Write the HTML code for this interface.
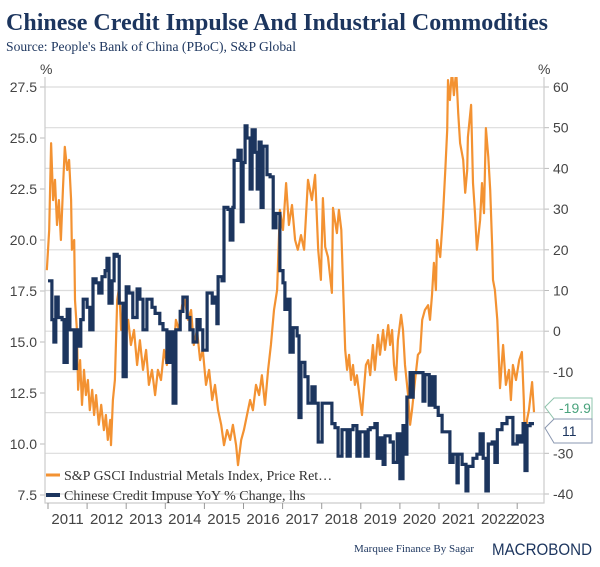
<!DOCTYPE html>
<html><head><meta charset="utf-8"><style>
body{margin:0;background:#fff;width:600px;height:567px;overflow:hidden}
svg{display:block}
.t{font-family:"Liberation Sans",sans-serif;fill:#444;font-size:14px}
.s{font-family:"Liberation Serif",serif}
</style></head><body>
<svg id="chart" width="600" height="567">
<text class="s" x="6" y="30" font-size="24" font-weight="bold" fill="#1c355e" textLength="542" lengthAdjust="spacingAndGlyphs">Chinese Credit Impulse And Industrial Commodities</text>
<text class="s" x="6" y="51" font-size="13.5" fill="#1c355e" textLength="290" lengthAdjust="spacingAndGlyphs">Source: People's Bank of China (PBoC), S&amp;P Global</text>
<text class="t" x="40" y="74">%</text>
<text class="t" x="538" y="74">%</text>
<defs><clipPath id="pc"><rect x="45" y="77" width="499" height="426"/></clipPath></defs>
<g id="grid"></g><g id="axes"></g>
<g id="series" clip-path="url(#pc)"></g>
<g id="legend">
<line x1="46" y1="475" x2="60" y2="475" stroke="#f39232" stroke-width="3"/>
<text class="s" x="64" y="480" font-size="14" fill="#333">S&amp;P GSCI Industrial Metals Index, Price Ret…</text>
<line x1="46" y1="495" x2="60" y2="495" stroke="#1c355e" stroke-width="4"/>
<text class="s" x="64" y="500" font-size="14" fill="#333">Chinese Credit Impuse YoY % Change, lhs</text>
</g>
<g>
<path d="M545,407 L554,398 H592 V419 H554 Z" fill="#fff" stroke="#8fc4ad"/>
<text class="t" x="559" y="413" style="fill:#4aa37d">-19.9</text></g>
<g>
<path d="M545,428 L554,419 H592 V443 H554 Z" fill="#fff" stroke="#8a97b0"/>
<text class="t" x="562" y="436" style="fill:#1c355e">11</text></g>
<text class="s" x="354" y="552" font-size="11" fill="#1c355e">Marquee Finance By Sagar</text>
<text x="492" y="555" font-family="Liberation Sans,sans-serif" font-size="17" fill="#1c355e" textLength="100" lengthAdjust="spacingAndGlyphs">MACROBOND</text>
</svg>
<script>
const creditT=[2011.00,2011.10,2011.15,2011.20,2011.26,2011.36,2011.41,2011.49,2011.56,2011.67,2011.72,2011.77,2011.84,2011.90,2012.00,2012.07,2012.15,2012.23,2012.30,2012.38,2012.46,2012.51,2012.56,2012.64,2012.69,2012.77,2012.82,2012.92,2013.00,2013.07,2013.17,2013.28,2013.35,2013.43,2013.53,2013.66,2013.74,2013.86,2013.94,2014.04,2014.12,2014.20,2014.27,2014.38,2014.45,2014.56,2014.63,2014.71,2014.81,2014.89,2014.96,2015.07,2015.20,2015.27,2015.32,2015.35,2015.45,2015.50,2015.60,2015.66,2015.73,2015.76,2015.86,2015.94,2015.99,2016.04,2016.09,2016.17,2016.22,2016.30,2016.35,2016.40,2016.45,2016.50,2016.60,2016.68,2016.76,2016.83,2016.93,2017.01,2017.06,2017.14,2017.19,2017.27,2017.37,2017.42,2017.47,2017.57,2017.65,2017.75,2017.83,2017.91,2018.01,2018.09,2018.16,2018.26,2018.34,2018.42,2018.52,2018.65,2018.73,2018.80,2018.90,2018.98,2019.11,2019.19,2019.24,2019.36,2019.42,2019.49,2019.57,2019.62,2019.75,2019.83,2019.93,2020.00,2020.08,2020.16,2020.18,2020.26,2020.31,2020.34,2020.46,2020.59,2020.64,2020.75,2020.82,2020.90,2020.98,2021.08,2021.21,2021.28,2021.36,2021.46,2021.49,2021.59,2021.69,2021.74,2021.87,2021.97,2022.05,2022.13,2022.20,2022.26,2022.36,2022.43,2022.49,2022.61,2022.74,2022.82,2022.89,2023.00,2023.07,2023.15,2023.20,2023.25,2023.33,2023.43];
const creditV=[18.0,16.1,15.0,17.2,16.2,16.1,14.0,16.6,15.6,13.7,15.6,14.8,16.1,17.1,16.7,15.6,18.1,17.9,17.4,18.2,18.5,19.1,16.9,18.0,19.3,19.2,16.9,13.3,17.7,17.4,16.2,17.6,17.1,15.6,17.1,16.7,16.4,15.9,15.6,14.0,15.5,12.0,15.6,16.5,17.2,16.2,15.6,15.0,16.1,15.6,14.6,17.4,16.9,17.2,15.9,18.2,18.0,21.6,21.5,20.0,21.6,23.9,24.4,20.9,23.8,25.6,25.0,22.5,25.4,24.3,22.5,24.8,21.6,24.6,23.2,23.1,20.6,21.3,18.5,17.9,16.6,17.1,14.5,15.7,15.3,11.3,14.0,13.3,12.0,12.8,12.0,10.1,12.0,12.0,12.0,11.0,10.8,9.4,10.7,9.4,10.7,10.9,9.4,10.6,9.4,10.7,10.8,11.0,9.3,10.3,9.0,10.4,10.1,9.1,10.5,8.3,10.9,9.5,12.3,13.5,12.3,13.5,13.5,12.1,13.4,11.9,13.3,11.8,11.4,10.6,10.6,9.1,9.5,8.1,9.5,9.0,7.7,8.9,9.3,9.5,10.5,9.3,7.7,10.0,10.1,9.1,10.7,11.0,11.3,11.3,10.0,10.4,10.1,11.0,8.7,10.9,11.0,11.0];
const metalsT=[2010.97,2011.03,2011.08,2011.13,2011.18,2011.23,2011.28,2011.33,2011.38,2011.43,2011.49,2011.54,2011.59,2011.61,2011.67,2011.69,2011.74,2011.77,2011.82,2011.87,2011.92,2011.97,2012.02,2012.07,2012.13,2012.18,2012.23,2012.30,2012.36,2012.43,2012.48,2012.53,2012.59,2012.61,2012.66,2012.71,2012.77,2012.82,2012.87,2012.92,2012.97,2013.05,2013.12,2013.20,2013.28,2013.35,2013.43,2013.51,2013.58,2013.66,2013.74,2013.81,2013.89,2013.97,2014.04,2014.12,2014.20,2014.27,2014.35,2014.43,2014.50,2014.58,2014.66,2014.73,2014.81,2014.89,2014.96,2015.04,2015.12,2015.20,2015.27,2015.35,2015.43,2015.50,2015.58,2015.66,2015.73,2015.81,2015.86,2015.94,2016.01,2016.09,2016.17,2016.24,2016.32,2016.40,2016.47,2016.55,2016.63,2016.70,2016.78,2016.86,2016.93,2017.01,2017.09,2017.16,2017.24,2017.32,2017.39,2017.47,2017.55,2017.65,2017.75,2017.83,2017.91,2017.98,2018.03,2018.09,2018.16,2018.26,2018.29,2018.39,2018.44,2018.50,2018.55,2018.60,2018.65,2018.70,2018.75,2018.80,2018.85,2018.90,2018.98,2019.03,2019.08,2019.13,2019.19,2019.24,2019.31,2019.36,2019.44,2019.49,2019.57,2019.62,2019.70,2019.75,2019.80,2019.85,2019.90,2019.95,2020.03,2020.08,2020.13,2020.21,2020.26,2020.31,2020.39,2020.46,2020.52,2020.57,2020.64,2020.72,2020.77,2020.82,2020.87,2020.92,2020.95,2021.03,2021.10,2021.16,2021.21,2021.23,2021.28,2021.33,2021.38,2021.44,2021.49,2021.54,2021.62,2021.67,2021.72,2021.74,2021.82,2021.87,2021.92,2021.97,2022.05,2022.10,2022.15,2022.20,2022.26,2022.31,2022.36,2022.38,2022.43,2022.49,2022.56,2022.61,2022.64,2022.71,2022.79,2022.84,2022.89,2022.97,2023.05,2023.12,2023.17,2023.20,2023.25,2023.30,2023.38,2023.43];
const metalsV=[15.0,24.9,46.2,32.2,37.2,26.1,32.2,22.4,34.7,45.3,39.6,42.1,32.2,20.0,22.4,7.7,0.3,-14.4,-7.1,-18.1,-9.5,-15.7,-12.0,-19.4,-14.4,-20.6,-15.7,-23.0,-18.1,-24.3,-20.6,-26.7,-21.8,-28.0,-16.9,-12.0,7.7,10.9,0.3,5.2,-3.4,2.8,-3.4,0.3,-8.3,-2.2,-9.5,-4.6,-13.2,-9.5,-15.7,-9.5,-12.0,-4.6,-8.3,-2.2,-7.1,2.8,0.3,6.4,7.7,2.8,5.2,-3.4,0.3,-7.1,-4.6,-13.2,-9.5,-16.9,-13.2,-19.4,-23.0,-28.0,-24.3,-26.7,-23.0,-28.0,-32.9,-26.7,-24.3,-20.6,-16.9,-19.4,-13.2,-15.7,-10.8,-18.1,-9.5,-3.4,5.2,10.1,29.8,24.9,36.4,26.1,31.0,22.4,20.0,23.6,20.0,37.2,32.2,38.4,20.0,12.6,32.7,20.7,18.2,9.4,30.3,24.1,29.8,24.9,10.1,-4.6,-9.5,-5.8,-12.0,-8.3,-13.2,-10.8,-16.9,-20.6,-14.4,-8.3,-7.1,-10.8,-3.4,-9.5,-0.9,-5.8,0.3,-4.6,1.5,-3.4,0.3,-8.3,-12.0,-2.2,4.0,0.3,-8.3,-15.7,-23.0,-19.4,-12.0,-5.8,-5.1,2.8,5.2,6.4,2.8,8.9,16.8,10.1,22.4,18.2,28.1,39.6,49.4,61.7,56.8,64,58.0,64,53.6,46.2,42.1,34.0,39.6,47.7,55.6,36.4,29.0,20.0,27.3,36.4,29.0,49.9,42.8,34.7,20.7,12.6,10.1,2.8,-14.0,-7.1,-3.4,-13.2,-9.5,-16.9,-8.3,-12.0,-7.1,-5.1,-16.9,-28.0,-21.8,-19.4,-12.5,-19.9];
const leftTicks=[27.5,25.0,22.5,20.0,17.5,15.0,12.5,10.0,7.5];
const rightTicks=[60,50,40,30,20,10,0,-10,-20,-30,-40];
const years=[2011,2012,2013,2014,2015,2016,2017,2018,2019,2020,2021,2022,2023];

const NS='http://www.w3.org/2000/svg';
const X=t=>48+(t-2011)*39.1;
const YL=v=>87+(27.5-v)*20.4;
const YR=v=>87+(60-v)*4.07;
function mk(tag,attrs,parent){const e=document.createElementNS(NS,tag);for(const k in attrs)e.setAttribute(k,attrs[k]);parent.appendChild(e);return e;}
const grid=document.getElementById('grid'),axes=document.getElementById('axes'),ser=document.getElementById('series');
rightTicks.forEach(v=>{
  const y=YR(v);
  const g=mk('line',{x1:45,x2:544,y1:y,y2:y,stroke:'#dcdcdc','stroke-width':1.2},grid);
  
  
  mk('line',{x1:544,x2:549,y1:y,y2:y,stroke:'#bbb'},axes);
  const t=mk('text',{x:553,y:y+5,class:'t'},axes);t.textContent=v;
  
  
});
leftTicks.forEach(v=>{
  const y=YL(v);
  mk('line',{x1:40,x2:45,y1:y,y2:y,stroke:'#bbb'},axes);
  const t=mk('text',{x:37,y:y+5,class:'t','text-anchor':'end'},axes);t.textContent=v.toFixed(1);
  
  
});
mk('path',{d:'M45,77 V503 H544 V77',fill:'none',stroke:'#ccc','stroke-width':1.2},axes);
years.forEach(yr=>{
  const x=X(yr);
  mk('line',{x1:x,x2:x,y1:503,y2:509,stroke:'#999'},axes);
  const t=mk('text',{x:Math.min(X(yr+0.5),528),y:524,class:'t','text-anchor':'middle'},axes);t.textContent=yr;
  t.style.fontSize='15px';
  
  
});
let d='M'+X(metalsT[0])+','+YR(metalsV[0]);
for(let i=1;i<metalsT.length;i++)d+=' L'+X(metalsT[i]).toFixed(1)+','+YR(metalsV[i]).toFixed(1);
const m=mk('path',{d:d,fill:'none',stroke:'#f39232','stroke-width':2.2,'stroke-linejoin':'round'},ser);


let d2='M'+X(creditT[0])+','+YL(creditV[0]);
for(let i=1;i<creditT.length;i++)d2+=' H'+X(creditT[i]).toFixed(1)+' V'+YL(creditV[i]).toFixed(1);
const c=mk('path',{d:d2,fill:'none',stroke:'#1c355e','stroke-width':3.2,'stroke-linejoin':'miter'},ser);


</script>
</body></html>
